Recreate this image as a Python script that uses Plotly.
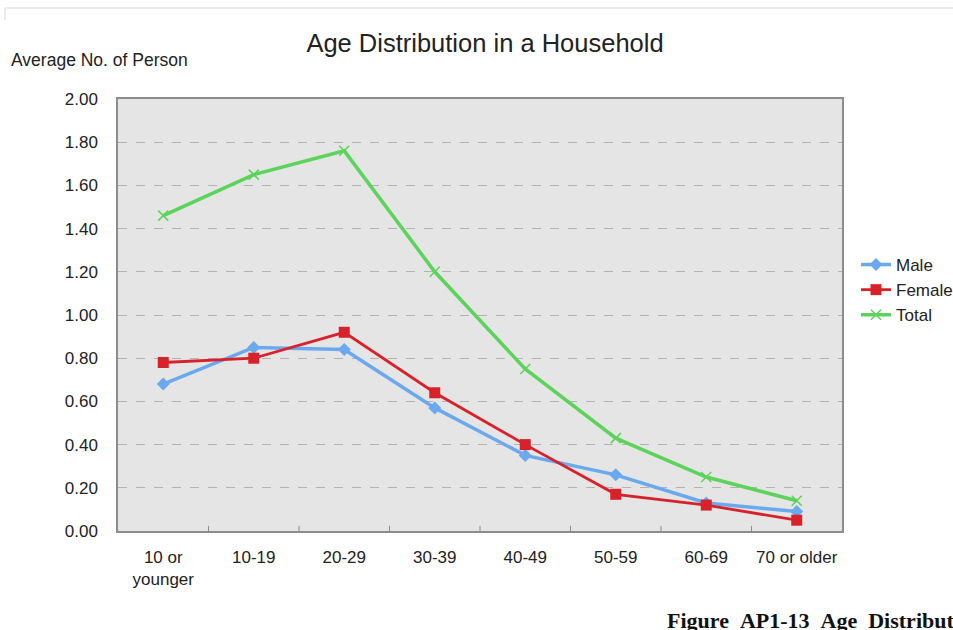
import plotly.graph_objects as go

# Age groups and average number of persons per household
age_groups = ["10 or<br>younger", "10-19", "20-29", "30-39", "40-49", "50-59", "60-69", "70 or older"]
male = [0.68, 0.85, 0.84, 0.57, 0.35, 0.26, 0.13, 0.09]
female = [0.78, 0.80, 0.92, 0.64, 0.40, 0.17, 0.12, 0.05]
total = [1.46, 1.65, 1.76, 1.20, 0.75, 0.43, 0.25, 0.14]
y_ticks = [0.0, 0.2, 0.4, 0.6, 0.8, 1.0, 1.2, 1.4, 1.6, 1.8, 2.0]

FONT = "Liberation Sans, Arial, sans-serif"
W, H = 953, 630
L, R, T, B = 118, 842, 99, 531   # plot box in pixels

fig = go.Figure()
fig.add_trace(go.Scatter(
    x=age_groups, y=male, name="Male", mode="lines+markers",
    line=dict(color="#6aa9ee", width=3.5),
    marker=dict(symbol="diamond", size=10, color="#6aa9ee"),
))
fig.add_trace(go.Scatter(
    x=age_groups, y=female, name="Female", mode="lines+markers",
    line=dict(color="#d8222b", width=2.8),
    marker=dict(symbol="square", size=11, color="#d8222b"),
))
fig.add_trace(go.Scatter(
    x=age_groups, y=total, name="Total", mode="lines+markers",
    line=dict(color="#5cd35a", width=3.5),
    marker=dict(symbol="x-thin", size=10, color="#5cd35a",
                line=dict(width=1.5, color="#5cd35a")),
))

fig.update_layout(
    width=W, height=H,
    margin=dict(l=L, r=0, t=T, b=H - B, autoexpand=False),
    paper_bgcolor="white",
    plot_bgcolor="#e5e5e5",
    font=dict(family=FONT, size=17, color="#222222"),
    title=dict(text="Age Distribution in a Household", xref="paper",
               x=(485 - L) / (W - L), xanchor="center",
               yref="container", y=1 - 43 / H, yanchor="middle",
               font=dict(size=25.5, color="#222222")),
    showlegend=True,
    legend=dict(x=(856 - L) / (W - L), xanchor="left",
                y=(B - 247) / (B - T), yanchor="top",
                bgcolor="rgba(0,0,0,0)", font=dict(size=17, color="#222222"),
                tracegroupgap=0, itemwidth=30),
    xaxis=dict(
        type="category", range=[-0.5, 7.5], domain=[0, (R - L) / (W - L)],
        showgrid=False, zeroline=False,
        showline=True, linecolor="#8c8c8c", linewidth=1.5, mirror=True,
        ticks="", ticklabelstandoff=10, tickfont=dict(size=17, color="#222222"),
    ),
    yaxis=dict(
        range=[0, 2.0], tickvals=y_ticks, tickformat=".2f",
        showgrid=True, gridcolor="#b3b3b3", griddash="dash", gridwidth=1,
        zeroline=False,
        showline=True, linecolor="#8c8c8c", linewidth=1.5, mirror=True,
        ticks="", ticklabelstandoff=15, tickfont=dict(size=17, color="#222222"),
    ),
)

# Small separator ticks between categories along the bottom axis
for i in range(1, 8):
    fig.add_shape(type="line", xref="x", yref="paper",
                  x0=i - 0.5, x1=i - 0.5, y0=0, y1=0.012,
                  line=dict(color="#8c8c8c", width=1))

# Faint frame line along the top of the page
fig.add_shape(type="line", xref="paper", yref="paper",
              x0=(5 - L) / (W - L), x1=(W - L) / (W - L),
              y0=(B - 8) / (B - T), y1=(B - 8) / (B - T),
              line=dict(color="#e4e4e4", width=1.5))
fig.add_shape(type="line", xref="paper", yref="paper",
              x0=(5 - L) / (W - L), x1=(5 - L) / (W - L),
              y0=(B - 8) / (B - T), y1=(B - 20) / (B - T),
              line=dict(color="#e4e4e4", width=1.5))

fig.add_annotation(text="Average No. of Person", xref="paper", yref="paper",
                   x=(9 - L) / (W - L), xanchor="left",
                   y=(B - 60) / (B - T), yanchor="middle",
                   showarrow=False, font=dict(size=17.5, color="#222222"))

# Figure caption, set with wide (en) word spacing
caption = "\u2002".join(["Figure", "AP1-13", "Age", "Distribution", "in", "a", "Household"])
fig.add_annotation(text="<b>" + caption + "</b>",
                   xref="paper", yref="paper",
                   x=(665 - L) / (W - L), xanchor="left",
                   y=(B - 620) / (B - T), yanchor="middle",
                   showarrow=False,
                   font=dict(family="Liberation Serif, Times New Roman, serif",
                             size=22, color="#111111"))

fig.write_html("out.html")
